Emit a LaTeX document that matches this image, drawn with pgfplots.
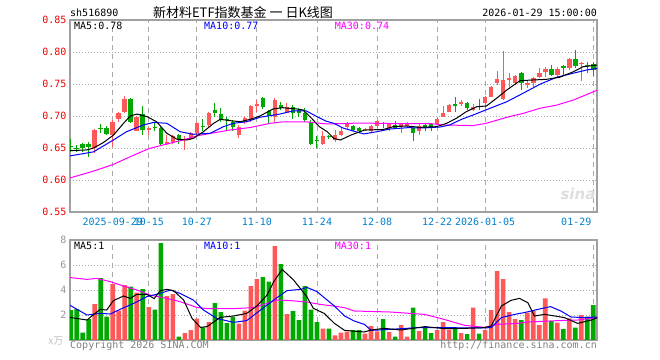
\documentclass[border=0pt]{standalone}
\usepackage{pgfplots}
\pgfplotsset{compat=1.18}
\usepackage{pgfplotstable}
\usepackage{fontspec}
\setmainfont{DejaVu Sans Mono}
\newfontfamily\cjk{Noto Sans CJK SC}
\newfontfamily\sinafont{DejaVu Sans}

\definecolor{sred}{RGB}{255,88,88}
\definecolor{sgreen}{RGB}{0,168,0}
\definecolor{framegray}{RGB}{160,160,160}
\definecolor{gridgray}{RGB}{170,170,170}
\definecolor{tickred}{RGB}{240,0,0}
\definecolor{dateblue}{RGB}{0,128,204}
\definecolor{maten}{RGB}{0,0,255}
\definecolor{mathirty}{RGB}{255,0,255}
\definecolor{txtgray}{RGB}{128,128,128}
\definecolor{volgray}{RGB}{150,150,150}

% i O H L C V  (up days: close >= open)
\pgfplotstableread{
i O H L C V
4 0.650 0.680 0.642 0.678 2.88
7 0.670 0.694 0.652 0.690 4.48
8 0.696 0.707 0.691 0.704 2.35
9 0.707 0.731 0.704 0.727 4.40
11 0.677 0.700 0.676 0.698 3.79
13 0.678 0.683 0.670 0.682 2.64
16 0.657 0.670 0.655 0.659 3.52
17 0.660 0.670 0.657 0.668 3.68
19 0.663 0.668 0.647 0.664 0.56
20 0.664 0.675 0.663 0.673 0.80
21 0.673 0.691 0.671 0.689 1.71
23 0.686 0.707 0.683 0.705 1.44
28 0.670 0.686 0.666 0.683 1.31
29 0.690 0.700 0.688 0.697 2.35
30 0.694 0.717 0.691 0.715 4.32
31 0.716 0.725 0.707 0.718 4.88
34 0.699 0.728 0.691 0.725 7.52
36 0.705 0.720 0.704 0.714 2.08
42 0.656 0.676 0.655 0.669 0.91
44 0.662 0.678 0.660 0.670 0.37
45 0.670 0.683 0.668 0.677 0.59
46 0.683 0.691 0.679 0.689 0.67
49 0.678 0.681 0.677 0.679 0.51
50 0.677 0.686 0.675 0.684 1.12
51 0.685 0.694 0.681 0.692 0.69
53 0.682 0.689 0.676 0.687 0.64
55 0.683 0.688 0.673 0.687 1.20
56 0.684 0.691 0.683 0.688 0.27
58 0.677 0.689 0.670 0.684 0.72
61 0.688 0.698 0.687 0.696 0.80
62 0.698 0.715 0.698 0.704 1.44
63 0.707 0.719 0.706 0.717 0.83
65 0.719 0.725 0.715 0.722 0.56
67 0.709 0.718 0.708 0.714 2.59
69 0.721 0.731 0.712 0.730 0.80
70 0.730 0.747 0.729 0.746 2.40
71 0.752 0.770 0.748 0.758 5.52
72 0.726 0.801 0.725 0.757 4.88
73 0.756 0.767 0.746 0.760 2.24
74 0.752 0.764 0.748 0.763 1.68
76 0.748 0.754 0.743 0.751 2.19
77 0.751 0.761 0.746 0.760 2.32
78 0.761 0.775 0.759 0.767 1.20
79 0.768 0.777 0.761 0.774 3.33
81 0.764 0.777 0.761 0.773 1.39
83 0.775 0.790 0.772 0.789 1.73
85 0.781 0.785 0.755 0.783 2.00
}\upT

% down days: close < open
\pgfplotstableread{
i O H L C V
0 0.653 0.664 0.644 0.652 2.40
1 0.650 0.655 0.644 0.649 2.48
2 0.656 0.658 0.643 0.650 0.59
3 0.656 0.660 0.636 0.652 1.68
5 0.681 0.688 0.673 0.679 4.96
6 0.681 0.684 0.670 0.672 1.87
10 0.727 0.728 0.689 0.690 4.27
12 0.703 0.716 0.670 0.678 4.08
14 0.682 0.689 0.676 0.681 2.43
15 0.682 0.683 0.655 0.657 7.76
18 0.670 0.672 0.657 0.663 0.27
22 0.684 0.696 0.676 0.683 1.01
24 0.709 0.720 0.698 0.704 2.96
25 0.703 0.713 0.691 0.696 2.24
26 0.695 0.699 0.676 0.694 1.36
27 0.691 0.694 0.677 0.683 1.84
32 0.728 0.730 0.711 0.714 5.04
33 0.708 0.709 0.689 0.700 4.67
35 0.717 0.722 0.709 0.712 6.08
37 0.714 0.717 0.696 0.704 2.32
38 0.709 0.712 0.699 0.704 1.60
39 0.704 0.712 0.691 0.693 4.32
40 0.691 0.693 0.655 0.657 2.43
41 0.662 0.668 0.650 0.661 1.44
43 0.668 0.671 0.664 0.667 0.91
47 0.684 0.686 0.676 0.678 0.80
48 0.681 0.683 0.673 0.676 0.80
52 0.689 0.691 0.682 0.688 1.68
54 0.686 0.692 0.680 0.681 0.27
57 0.681 0.681 0.661 0.673 2.59
59 0.686 0.689 0.677 0.681 1.07
60 0.687 0.687 0.677 0.681 0.56
64 0.719 0.730 0.706 0.715 0.99
66 0.720 0.722 0.709 0.713 0.48
68 0.716 0.726 0.709 0.714 0.51
75 0.767 0.768 0.740 0.751 1.60
80 0.773 0.780 0.763 0.764 1.52
82 0.778 0.780 0.763 0.775 0.88
84 0.789 0.803 0.775 0.778 0.99
86 0.780 0.785 0.767 0.779 1.87
87 0.781 0.784 0.763 0.772 2.80
}\downT

\pgfplotsset{
  sina/.style={
    scale only axis, width=527bp,
    xmin=-0.12, xmax=87.62,
    major tick length=0pt, tick style={draw=none},
    axis line style={draw=framegray, line width=1.2bp},
    xmajorgrids, ymajorgrids,
    x grid style={draw=gridgray, line width=0.9bp, dash pattern=on 5bp off 4bp},
    y grid style={draw=gridgray, line width=0.9bp, dash pattern=on 1bp off 2bp},
    xtick={7,13,21,31,41,51,61,69},
    extra x ticks={87},
    tick label style={font=\fontsize{10bp}{12bp}\selectfont},
    /pgf/number format/assume math mode=true,
  },
  wick/.style={draw=none, mark=none, forget plot,
    error bars/.cd, y dir=plus, y explicit, error mark=none,
    error bar style={draw=#1, solid, line width=1bp, line cap=butt}},
  body/.style={draw=none, mark=none, forget plot,
    error bars/.cd, y dir=plus, y explicit, error mark=none,
    error bar style={draw=#1, solid, line width=4.6bp, line cap=butt}},
}

\tikzset{t/.style={inner sep=0pt, font=\fontsize{10bp}{12bp}\selectfont}}

\begin{document}
\begin{tikzpicture}
\useasboundingbox (0,0) rectangle (660bp,360bp);

% ---------------- price panel ----------------
\begin{axis}[sina,
  at={(70bp,148bp)}, anchor=south west, height=192bp,
  ymin=0.55, ymax=0.85,
  ytick={0.55,0.6,0.65,0.7,0.75,0.8,0.85},
  yticklabel style={text=tickred, /pgf/number format/.cd, fixed, fixed zerofill, precision=2},
  xticklabels={2025-09-29,10-15,10-27,11-10,11-24,12-08,12-22,2026-01-05},
  xticklabel style={text=dateblue, anchor=center, yshift=-9.5bp},
  extra x tick labels={01-29},
  extra x tick style={grid=major, xticklabel style={xshift=-17bp}},
]
\addplot[wick=sred] table[x=i, y=L, y error plus expr=\thisrow{H}-\thisrow{L}] {\upT};
\addplot[wick=sgreen] table[x=i, y=L, y error plus expr=\thisrow{H}-\thisrow{L}] {\downT};
\addplot[body=sred] table[x=i, y=O, y error plus expr={max(\thisrow{C}-\thisrow{O},0.0012)}] {\upT};
\addplot[body=sgreen] table[x=i, y=C, y error plus expr={max(\thisrow{O}-\thisrow{C},0.0012)}] {\downT};

% MA30
\addplot[mathirty, line width=1bp, mark=none] coordinates {
(-0.2,0.603) (3.5,0.613) (7,0.624) (10.3,0.638) (13,0.649) (15.9,0.656) (18.7,0.6625)
(21,0.669) (26.4,0.678) (29.9,0.682) (33.2,0.6886) (35.4,0.691) (39.2,0.691) (42.7,0.6875)
(48.2,0.689) (55,0.688) (60,0.688) (62,0.686) (67,0.685) (69.2,0.6886) (72.6,0.698)
(75.3,0.704) (78.1,0.712) (80.9,0.717) (83.7,0.725) (87.7,0.7405)};
% MA10
\addplot[maten, line width=1bp, mark=none] coordinates {
(-0.2,0.6375) (3.8,0.644) (7.1,0.6625) (9.3,0.6755) (12.1,0.686) (13.8,0.690) (16,0.6886)
(18.2,0.6755) (20.4,0.6714) (23.2,0.673) (25.4,0.6833) (27.1,0.6886) (29.3,0.691) (31.5,0.698)
(34.8,0.703) (37,0.708) (39.2,0.708) (41,0.699) (42.5,0.692) (43.8,0.6886) (45.4,0.681)
(47,0.6766) (48.8,0.672) (51,0.6755) (53.2,0.6797) (56,0.6817) (59,0.6815) (61.5,0.6828)
(63.1,0.686) (64.2,0.691) (65.2,0.6953) (67,0.7016) (69.8,0.712) (72.6,0.7223) (75.3,0.7355)
(78.1,0.7495) (80.9,0.7605) (83.6,0.7667) (85.9,0.7719) (87.7,0.7745)};
% MA5
\addplot[black, line width=1bp, mark=none] coordinates {
(-0.2,0.6458) (2.7,0.647) (3.8,0.650) (5.4,0.6583) (7.1,0.670) (8.8,0.6886) (9.9,0.700)
(11,0.703) (12.7,0.699) (14.3,0.691) (16,0.673) (17.7,0.6636) (19.3,0.6625) (20.4,0.665)
(22.1,0.6755) (23.8,0.6886) (24.9,0.6948) (26.6,0.6927) (28.2,0.691) (29.9,0.6948) (31.5,0.70)
(33.7,0.711) (35.3,0.713) (37.6,0.711) (38.7,0.7094) (40.1,0.6964) (41.4,0.6833) (42.7,0.6755)
(43.8,0.665) (44.9,0.6625) (46.6,0.670) (48.9,0.678) (52.1,0.679) (53.7,0.6833) (55.9,0.6844)
(58.1,0.6823) (60.9,0.6833) (62.6,0.6886) (64.2,0.6964) (65.9,0.707) (67.6,0.7145) (69.2,0.7156)
(70.9,0.7277) (72.6,0.7406) (74.8,0.7552) (77,0.7563) (79.2,0.7573) (81.4,0.7605) (83.7,0.7692)
(85.3,0.777) (87.7,0.7797)};
\end{axis}

% ---------------- volume panel ----------------
\begin{axis}[sina,
  at={(70bp,20bp)}, anchor=south west, height=100bp,
  ymin=0, ymax=8, ytick={2,4,6,8},
  yticklabel style={text=volgray},
  xticklabels={}, extra x tick labels={},
  extra x tick style={grid=major},
]
\addplot[ybar, bar width=4.6bp, bar shift=0pt, fill=sred, draw=none, forget plot] table[x=i, y=V] {\upT};
\addplot[ybar, bar width=4.6bp, bar shift=0pt, fill=sgreen, draw=none, forget plot] table[x=i, y=V] {\downT};
% volume MA30
\addplot[mathirty, line width=1bp, mark=none] coordinates {
(-0.2,5.0) (2.7,4.85) (4.3,4.93) (6.6,4.67) (8.8,4.32) (11,4.0) (13.2,3.6) (16,3.33) (18.2,3.07)
(21,2.61) (22.7,2.51) (27.1,2.51) (30.4,2.59) (32.7,2.93) (34.3,3.2) (36.6,3.15) (39.3,3.04)
(41.5,2.85) (43.2,2.75) (45.6,2.59) (47.2,2.32) (53.2,2.24) (56.5,2.13) (58.9,2.05) (61.7,1.71)
(65.6,1.17) (68.9,1.01) (71.1,1.25) (74.4,1.33) (76.1,1.44) (81.1,1.55) (84.4,1.6) (87.7,1.79)};
% volume MA10
\addplot[maten, line width=1bp, mark=none] coordinates {
(-0.2,2.8) (2.7,2.0) (4.9,2.13) (6.6,2.08) (8.2,2.45) (10.5,2.93) (12.7,3.47) (14.9,3.73) (16.6,4.0)
(18.2,3.73) (20.4,3.2) (22.1,2.4) (24.3,1.73) (27.1,1.41) (29.3,1.55) (31.6,2.4) (33.8,3.2) (36,3.95)
(38.3,4.05) (39.3,4.21) (41,3.87) (42.2,3.39) (43.9,2.72) (45.6,1.92) (47.2,1.52) (48.9,1.25) (50,0.77)
(53.2,0.85) (57.8,0.99) (62.2,0.99) (68.3,0.96) (70,0.99) (71.7,1.79) (73.9,2.05) (75.5,2.19)
(78.3,2.51) (79.9,2.67) (81.6,2.32) (83.3,1.84) (85.5,1.79) (87.7,1.84)};
% volume MA5
\addplot[black, line width=1bp, mark=none] coordinates {
(-0.2,1.81) (2.7,1.6) (4.9,2.45) (6,2.4) (7.1,3.15) (8.8,3.52) (9.9,3.33) (11,3.65) (12.7,3.65)
(13.9,3.31) (14.9,3.95) (16,4.05) (17.1,3.95) (18.8,3.2) (20.2,1.73) (21.6,1.01) (22.7,1.07)
(24.9,1.81) (27.1,1.92) (29.3,2.13) (31,2.72) (32.7,3.6) (33.8,4.67) (35.2,5.65) (37.1,4.8)
(39.3,3.47) (40.4,2.53) (42.2,2.13) (43.9,1.33) (45.6,0.77) (48.9,0.64) (50,0.8) (52.2,0.93)
(55,0.8) (59,1.07) (62.2,0.91) (65.6,0.93) (68.9,0.99) (70,1.12) (71.7,2.72) (73.3,3.17)
(74.7,3.33) (76.1,2.99) (77.2,1.92) (78.9,2.05) (80.6,1.92) (82.2,1.79) (84.4,1.33) (86.7,1.6)
(87.7,1.79)};
\end{axis}

% ---------------- texts ----------------
\node[t, anchor=base west] at (70bp,343.4bp) {sh516890};
\node[inner sep=0pt, anchor=base, font=\cjk\fontsize{13bp}{15bp}\selectfont] at (243bp,342.2bp) {新材料ETF指数基金 一 日K线图};
\node[t, anchor=base east] at (597bp,343.4bp) {2026-01-29 15:00:00};

\node[t, anchor=base west] at (74bp,330.4bp) {MA5:0.78};
\node[t, anchor=base west, text=maten] at (204bp,330.4bp) {MA10:0.77};
\node[t, anchor=base west, text=mathirty] at (334.7bp,330.4bp) {MA30:0.74};

\node[t, anchor=base west] at (74bp,110.1bp) {MA5:1};
\node[t, anchor=base west, text=maten] at (204bp,110.1bp) {MA10:1};
\node[t, anchor=base west, text=mathirty] at (334.7bp,110.1bp) {MA30:1};

\node[inner sep=0pt, anchor=east, text={rgb,255:red,190;green,190;blue,190}, font=\cjk\fontsize{10bp}{12bp}\selectfont] at (63.5bp,19.2bp) {x万};

\node[t, anchor=base west, text=txtgray] at (70bp,11.3bp) {Copyright 2026 SINA.COM};
\node[t, anchor=base east, text=txtgray] at (597bp,11.3bp) {http://finance.sina.com.cn};

\node[inner sep=0pt, text={rgb,255:red,222;green,222;blue,222}, font=\sinafont\bfseries\itshape\fontsize{15bp}{15bp}\selectfont] at (578bp,166bp) {sina};
\end{tikzpicture}
\end{document}
